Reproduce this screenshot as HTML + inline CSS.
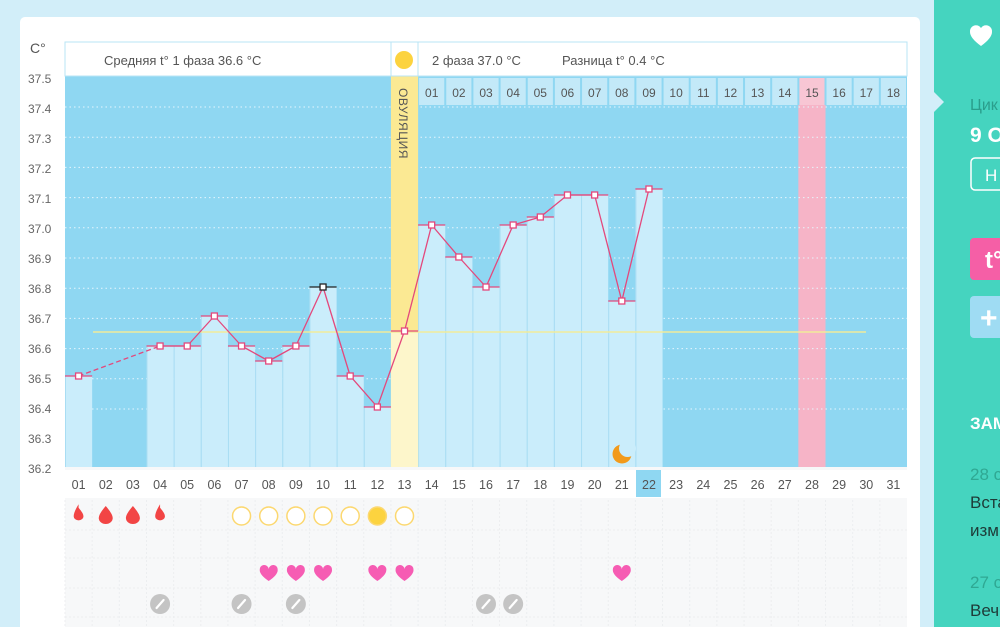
<!DOCTYPE html>
<html><head><meta charset="utf-8"><style>
html,body{margin:0;padding:0;width:1000px;height:627px;overflow:hidden;background:#d2eef9;font-family:"Liberation Sans","DejaVu Sans",sans-serif}
svg{position:absolute;left:0;top:0}
</style></head><body>
<svg id="s" width="1000" height="627" viewBox="0 0 1000 627" xmlns="http://www.w3.org/2000/svg" font-family="Liberation Sans, DejaVu Sans, sans-serif">
<rect x="20" y="17" width="900" height="620" rx="5" fill="#ffffff"/>
<rect x="934" y="0" width="66" height="627" fill="#45d4bf"/>
<polygon points="934,92 944,102 934,112" fill="#d2eef9"/>
<path d="M970,32 a6,6 0 0 1 11,-4 a6,6 0 0 1 11,4 q0,6 -11,14 q-11,-8 -11,-14z" fill="#fff"/>
<text x="970" y="110" font-size="16" fill="#2a9e8c">Цик</text>
<text x="970" y="142" font-size="21" font-weight="bold" fill="#fff">9 О</text>
<rect x="971" y="158" width="40" height="32" rx="4" fill="none" stroke="#fff" stroke-width="1.5"/>
<text x="985" y="181" font-size="17" fill="#fff">Н</text>
<rect x="970" y="238" width="40" height="42" rx="4" fill="#f55fa6"/>
<text x="985" y="268" font-size="24" font-weight="bold" fill="#fff">t°</text>
<rect x="970" y="296" width="40" height="42" rx="4" fill="#9fdcf3"/>
<text x="980" y="328" font-size="30" font-weight="bold" fill="#fff">+</text>
<text x="970" y="429" font-size="17" font-weight="bold" fill="#fff">ЗАМ</text>
<text x="970" y="480" font-size="17" fill="#2fa893">28 с</text>
<text x="970" y="508" font-size="17" fill="#1e3b38">Вста</text>
<text x="970" y="536" font-size="17" fill="#1e3b38">изм</text>
<text x="970" y="588" font-size="17" fill="#2fa893">27 с</text>
<text x="970" y="616" font-size="17" fill="#1e3b38">Веч</text>

<text x="30" y="53" font-size="14" fill="#555">C°</text>
<g id="yl" font-size="12" fill="#666">
<text x="28" y="83">37.5</text><text x="28" y="113">37.4</text><text x="28" y="143">37.3</text><text x="28" y="173">37.2</text><text x="28" y="203">37.1</text><text x="28" y="233">37.0</text><text x="28" y="263">36.9</text><text x="28" y="293">36.8</text><text x="28" y="323">36.7</text><text x="28" y="353">36.6</text><text x="28" y="383">36.5</text><text x="28" y="413">36.4</text><text x="28" y="443">36.3</text><text x="28" y="473">36.2</text>
</g>
<rect x="65" y="467" width="842" height="160" fill="#f7f8f9"/>
<rect x="65" y="470" width="842" height="28" fill="#fff"/>
<rect x="65" y="76" width="842" height="391" fill="#8fd7f2"/>
<g id="dyn"></g>
<rect x="65" y="42" width="842" height="34" fill="#fff" stroke="#b9e4f5"/>
<line x1="391" y1="42" x2="391" y2="76" stroke="#b9e4f5"/>
<line x1="418" y1="42" x2="418" y2="76" stroke="#b9e4f5"/>
<circle cx="404" cy="60" r="9" fill="#fcd33f"/>
<text x="104" y="65" font-size="13" fill="#555">Средняя t° 1 фаза 36.6 °C</text>
<text x="432" y="65" font-size="13" fill="#555">2 фаза 37.0 °C</text>
<text x="562" y="65" font-size="13" fill="#555">Разница t° 0.4 °C</text>
<text transform="translate(399,88) rotate(90)" font-size="12" fill="#555" letter-spacing="0.5">ОВУЛЯЦИЯ</text>
<g font-size="12" fill="#555" text-anchor="middle">
<text x="431.7" y="97">01</text><text x="458.9" y="97">02</text><text x="486" y="97">03</text><text x="513.2" y="97">04</text><text x="540.3" y="97">05</text><text x="567.5" y="97">06</text><text x="594.7" y="97">07</text><text x="621.8" y="97">08</text><text x="649" y="97">09</text><text x="676.1" y="97">10</text><text x="703.3" y="97">11</text><text x="730.5" y="97">12</text><text x="757.6" y="97">13</text><text x="784.8" y="97">14</text><text x="812" y="97">15</text><text x="839.1" y="97">16</text><text x="866.3" y="97">17</text><text x="893.4" y="97">18</text>
</g>
<rect x="636" y="470" width="25" height="27" fill="#8fd7f2"/>
<g font-size="12.5" fill="#555" text-anchor="middle">
<text x="78.6" y="489">01</text><text x="105.8" y="489">02</text><text x="132.9" y="489">03</text><text x="160.1" y="489">04</text><text x="187.2" y="489">05</text><text x="214.4" y="489">06</text><text x="241.6" y="489">07</text><text x="268.7" y="489">08</text><text x="295.9" y="489">09</text><text x="323" y="489">10</text><text x="350.2" y="489">11</text><text x="377.4" y="489">12</text><text x="404.5" y="489">13</text><text x="431.7" y="489">14</text><text x="458.9" y="489">15</text><text x="486" y="489">16</text><text x="513.2" y="489">17</text><text x="540.3" y="489">18</text><text x="567.5" y="489">19</text><text x="594.7" y="489">20</text><text x="621.8" y="489">21</text><text x="649" y="489">22</text><text x="676.1" y="489">23</text><text x="703.3" y="489">24</text><text x="730.5" y="489">25</text><text x="757.6" y="489">26</text><text x="784.8" y="489">27</text><text x="812" y="489">28</text><text x="839.1" y="489">29</text><text x="866.3" y="489">30</text><text x="893.4" y="489">31</text>
</g>
</svg>
<script>
var N='http://www.w3.org/2000/svg',g=document.getElementById('dyn'),w=842/31;
function X(i){return 65+w*(i-1)}
function el(t,a){var e=document.createElementNS(N,t);for(var k in a)e.setAttribute(k,a[k]);g.appendChild(e);return e}
var d={1:376,4:346,5:346,6:316,7:346,8:361,9:346,10:287,11:376,12:407,13:331,14:225,15:257,16:287,17:225,18:217,19:195,20:195,21:301,22:189};
for(var i=14;i<=31;i++)el('rect',{x:X(i)+1,y:78,width:w-2,height:27,fill:i==28?'#f8c6d4':'#c3e9f8'});
el('rect',{x:X(28),y:105,width:w,height:362,fill:'#f6b4c7'});
for(var k=1;k<=11;k++){var y=107+30.2*(k-1);el('line',{x1:65,x2:907,y1:y,y2:y,stroke:'#e6f6fd','stroke-width':1,'stroke-dasharray':'1.5 3'});}
for(var i in d){i=+i;if(i==13)continue;el('rect',{x:X(i),y:d[i],width:w,height:467-d[i],fill:'#caedfb'});el('line',{x1:X(i)+0.5,x2:X(i)+0.5,y1:d[i],y2:467,stroke:'#a9ddf3'});}
el('rect',{x:X(13),y:76,width:w,height:391,fill:'#fbe993'});
el('rect',{x:X(13),y:331,width:w,height:136,fill:'#fdf6cb'});
el('line',{x1:93,x2:866,y1:332,y2:332,stroke:'#f1ec9a','stroke-width':1.5});
var ks=Object.keys(d).map(Number);
for(var j=0;j<ks.length-1;j++){var a=ks[j],b=ks[j+1];el('line',{x1:X(a)+w/2,y1:d[a],x2:X(b)+w/2,y2:d[b],stroke:'#e4487c','stroke-width':1.3,'stroke-dasharray':a==1?'5 3':''});}
ks.forEach(function(i){var c=i==10?'#222':'#e4487c';el('line',{x1:X(i),x2:X(i)+w,y1:d[i],y2:d[i],stroke:c,'stroke-width':1.3});el('rect',{x:X(i)+w/2-3,y:d[i]-3,width:6,height:6,fill:'#fff',stroke:c,'stroke-width':1.3});});
el('circle',{cx:622,cy:454,r:9.5,fill:'#f29a1b'});
el('circle',{cx:627.5,cy:448.5,r:8.5,fill:'#caedfb'});
for(var i=1;i<=31;i++){el('line',{x1:X(i),x2:X(i),y1:500,y2:627,stroke:'#eceef0','stroke-dasharray':'2 2'});}
[530,558,588,617].forEach(function(y){el('line',{x1:65,x2:907,y1:y,y2:y,stroke:'#eceef0','stroke-dasharray':'2 2'});});
[[1,.7],[2,1],[3,1],[4,.7]].forEach(function(p){var cx=X(p[0])+w/2,s=p[1];el('path',{d:'M'+cx+','+(506+(1-s)*6)+' q'+(7*s)+','+(8*s)+' '+(7*s)+','+(12*s)+' a'+(7*s)+','+(6*s)+' 0 0 1 '+(-14*s)+',0 q0,-4 '+(7*s)+',-12z',fill:'#f24545'});});
for(var i=7;i<=13;i++)el('circle',{cx:X(i)+w/2,cy:516,r:9,fill:i==12?'#fcd33f':'#fff',stroke:'#fcd870','stroke-width':1.5});
[8,9,10,12,13,21].forEach(function(i){var cx=X(i)+w/2;el('path',{d:'M'+cx+',581 q-9,-6 -9,-11 a4.5,4.5 0 0 1 9,-1 a4.5,4.5 0 0 1 9,1 q0,5 -9,11z',fill:'#f65cb3'});});
[4,7,9,16,17].forEach(function(i){var cx=X(i)+w/2;el('circle',{cx:cx,cy:604,r:10,fill:'#c4c4c4'});el('line',{x1:cx-3.5,y1:608,x2:cx+3.5,y2:600,stroke:'#fff','stroke-width':2.2,'stroke-linecap':'round'});});
</script>
</body></html>
